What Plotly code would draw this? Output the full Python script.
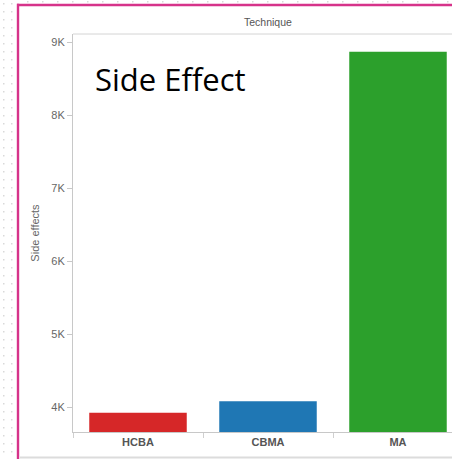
import plotly.graph_objects as go

categories = ["HCBA", "CBMA", "MA"]
side_effects = [3922, 4082, 8868]
bar_colors = ["#d62728", "#1f77b4", "#2ca02c"]
y_tick_values = [4000, 5000, 6000, 7000, 8000, 9000]
y_tick_labels = [f"{v // 1000}K" for v in y_tick_values]

W, H = 452, 459
L, T, B = 73, 34, 432  # plot area pixel edges
R = W

def px(x):
    return (x - L) / (R - L)

def py(y):
    return (B - y) / (B - T)

fig = go.Figure(go.Bar(
    x=categories, y=side_effects, marker_color=bar_colors,
    marker_line_width=0, width=0.75,
))

shapes = []
dot = "#d9d9d9"
for yy in range(3, H, 8):
    for xx in (3, 11):
        shapes.append(dict(type="rect", xref="paper", yref="paper",
                           x0=px(xx), x1=px(xx + 1.5), y0=py(yy), y1=py(yy + 1.5),
                           fillcolor=dot, line_width=0, layer="below"))
for xx in range(27, W, 15):
    shapes.append(dict(type="rect", xref="paper", yref="paper",
                       x0=px(xx), x1=px(xx + 1.5), y0=py(1), y1=py(2.5),
                       fillcolor=dot, line_width=0, layer="below"))
shapes.append(dict(type="rect", xref="paper", yref="paper",
                   x0=px(18), x1=px(W), y0=py(5), y1=py(H),
                   fillcolor="white", line_width=0, layer="below"))
pink = "#d6338a"
# pink frame (top and left edges as thin filled bands)
shapes.append(dict(type="rect", xref="paper", yref="paper",
                   x0=px(17), x1=px(W), y0=py(3.8), y1=py(6.2),
                   fillcolor=pink, line_width=0))
shapes.append(dict(type="rect", xref="paper", yref="paper",
                   x0=px(16.8), x1=px(19.2), y0=py(3.8), y1=py(H),
                   fillcolor=pink, line_width=0))
shapes.append(dict(type="line", xref="paper", yref="paper",
                   x0=0, x1=1, y0=1, y1=1,
                   line=dict(color="#d4d4d4", width=1)))
shapes.append(dict(type="line", xref="paper", yref="paper",
                   x0=px(20), x1=1, y0=py(457.5), y1=py(457.5),
                   line=dict(color="#dcdcdc", width=2)))

fig.update_layout(
    width=W, height=H,
    margin=dict(l=L, r=0, t=T, b=H - B, autoexpand=False),
    paper_bgcolor="rgba(0,0,0,0)", plot_bgcolor="white",
    showlegend=False,
    shapes=shapes,
    font=dict(family="Liberation Sans, Arial, sans-serif", color="#666666", size=11),
    xaxis=dict(
        range=[-0.5, 2.5 - 11 / 130], showgrid=False, zeroline=False,
        showline=True, linecolor="#c8c8c8", linewidth=1,
        ticks="outside", tickson="boundaries", ticklen=5, tickcolor="#d0d0d0",
        tickfont=dict(size=11, color="#555555", family="Liberation Sans, Arial, sans-serif", weight="bold"),
        fixedrange=True,
    ),
    yaxis=dict(
        range=[3660, 9110], showgrid=False, zeroline=False,
        showline=True, linecolor="#c8c8c8", linewidth=1,
        tickvals=y_tick_values, ticktext=y_tick_labels,
        ticks="outside", ticklen=5, tickcolor="#c8c8c8",
        tickfont=dict(size=11, color="#666666"),
        title=dict(text="Side effects", font=dict(size=11, color="#666666"), standoff=9),
    ),
    annotations=[
        dict(text="Technique", xref="x", yref="paper", x=1, y=py(22),
             showarrow=False, font=dict(size=10.5, color="#555555"),
             xanchor="center", yanchor="middle"),
        dict(text="Side Effect", xref="paper", yref="paper", x=px(93), y=py(79),
             showarrow=False, font=dict(size=31, color="#000000",
                                        family="Open Sans, Noto Sans, sans-serif"),
             xanchor="left", yanchor="middle"),
    ],
)

fig.write_html("out.html")
